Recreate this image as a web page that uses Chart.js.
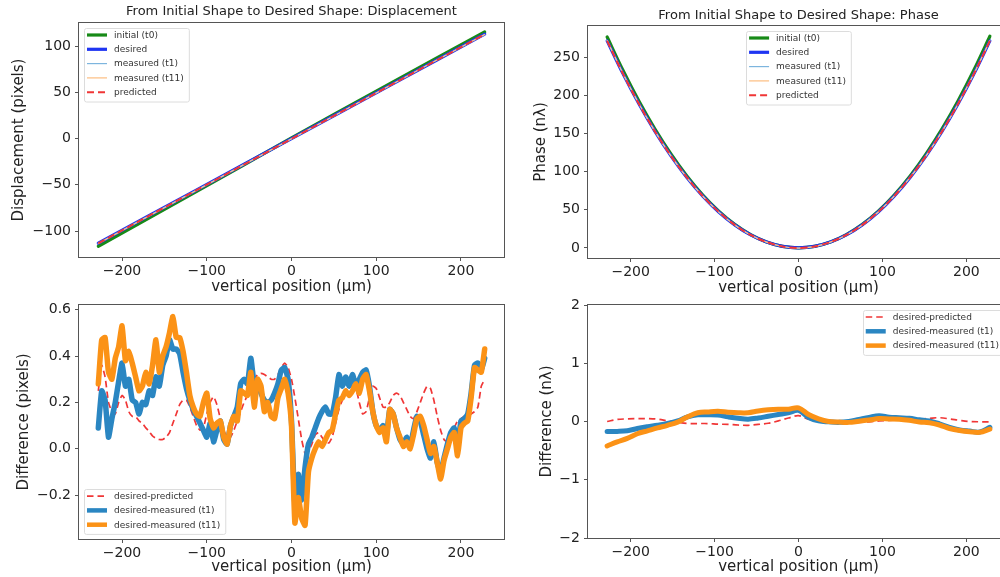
<!DOCTYPE html>
<html>
<head>
<meta charset="utf-8">
<script src="https://cdn.jsdelivr.net/npm/chart.js@4.4.1/dist/chart.umd.min.js"></script>
<style>
	html, body { margin: 0; padding: 0; background: #fff; overflow: hidden; width: 1000px; height: 577px; }
	canvas { position: absolute; }
</style>
</head>
<body>
<canvas id="canvasDisp" width="520" height="300" style="left:0;top:0"></canvas>
<canvas id="canvasPhase" width="490" height="300" style="left:520px;top:0"></canvas>
<canvas id="canvasDiffPix" width="520" height="287" style="left:0;top:290px"></canvas>
<canvas id="canvasDiffPhase" width="490" height="287" style="left:520px;top:290px"></canvas>
<script>
"use strict"

// top left: displacement (pixels)
const dispX = [-228, -171, -114, -57, 0, 57, 114, 171, 228]
const dispInitial = [-116.4, -87.2, -58.0, -28.8, 0.8, 29.6, 58.3, 86.9, 115.3]
const dispDesired = [-113.0, -84.7, -56.5, -28.2, 0.0, 28.2, 56.5, 84.7, 113.0]
const dispMeasuredT1 = [-113.1, -84.9, -56.8, -28.4, -0.1, 27.9, 56.4, 84.7, 112.6]
const dispMeasuredT11 = [-113.3, -85.1, -57.0, -28.5, -0.1, 27.9, 56.4, 84.7, 112.6]
const dispPredicted = [-113.2, -84.8, -56.7, -28.5, -0.3, 28.0, 56.3, 84.6, 112.7]

// top right: phase (n lambda)
const phaseX = [-228, -209, -190, -171, -152, -133, -114, -95, -76, -57, -38, -19, 0,
	19, 38, 57, 76, 95, 114, 133, 152, 171, 190, 209, 228]
const phaseInitial = [277, 233.0, 192.6, 156.1, 123.4, 94.5, 69.4, 48.2, 30.9, 17.4, 7.7, 1.9, 0,
	1.9, 7.7, 17.4, 30.9, 48.3, 69.5, 94.6, 123.6, 156.4, 193.0, 233.6, 278]
const phaseDesired = [272, 228.6, 188.9, 153.0, 120.9, 92.6, 68.0, 47.2, 30.2, 17.0, 7.6, 1.9, 0,
	1.9, 7.6, 17.0, 30.2, 47.2, 68.0, 92.6, 120.9, 153.0, 188.9, 228.6, 272]
const phaseMeasuredT1 = [272.2, 228.7, 189.0, 153.1, 120.9, 92.5, 67.9, 47.1, 30.1, 16.9, 7.5, 1.8, -0.2,
	1.7, 7.6, 17.0, 30.2, 47.2, 67.9, 92.5, 120.9, 153.0, 189.0, 228.8, 272.1]
const phaseMeasuredT11 = [272.4, 228.9, 189.1, 153.1, 120.8, 92.4, 67.8, 47.0, 30.0, 16.9, 7.5, 1.8, -0.2,
	1.7, 7.6, 17.0, 30.2, 47.2, 67.9, 92.5, 120.9, 153.1, 189.1, 228.8, 272.1]
const phasePredicted = [272.0, 228.6, 188.9, 153.0, 120.9, 92.6, 68.0, 47.2, 30.2, 17.0, 7.6, 1.9, -0.1,
	1.9, 7.6, 17.0, 30.2, 47.2, 68.0, 92.6, 120.9, 153.0, 188.9, 228.6, 272.0]

// bottom left: difference (pixels)
const diffPixX = [-228, -224, -220, -216, -212, -208, -204, -200, -196, -192, -188, -184, -180, -176, -172, -168, -164, -160, -156,
	-152, -148, -144, -140, -136, -132, -128, -124, -120, -116, -112, -108, -104, -100, -96, -92, -88, -84, -80,
	-76, -72, -68, -64, -60, -56, -52, -48, -44, -40, -36, -32, -28, -24, -20, -16, -12, -8, -4,
	0, 4, 8, 12, 16, 20, 24, 28, 32, 36, 40, 44, 48, 52, 56, 60, 64, 68, 72,
	76, 80, 84, 88, 92, 96, 100, 104, 108, 112, 116, 120, 124, 128, 132, 136, 140, 144, 148,
	152, 156, 160, 164, 168, 172, 176, 180, 184, 188, 192, 196, 200, 204, 208, 212, 216, 220, 224, 228]
const diffPixPredicted = [0.25, 0.36, 0.31, 0.20, 0.16, 0.15, 0.20, 0.23, 0.21, 0.16, 0.14, 0.14, 0.12, 0.11, 0.09, 0.075, 0.055, 0.045, 0.04,
	0.04, 0.05, 0.07, 0.11, 0.15, 0.19, 0.21, 0.21, 0.18, 0.14, 0.10, 0.08, 0.09, 0.15, 0.20, 0.225, 0.19, 0.13, 0.08,
	0.05, 0.05, 0.08, 0.12, 0.16, 0.20, 0.23, 0.27, 0.30, 0.32, 0.325, 0.32, 0.31, 0.30, 0.30, 0.32, 0.35, 0.37, 0.35,
	0.30, 0.22, 0.13, 0.04, -0.02, -0.01, 0.02, 0.06, 0.07, 0.05, 0.03, 0.025, 0.05, 0.11, 0.17, 0.21, 0.25, 0.27, 0.27,
	0.26, 0.20, 0.15, 0.16, 0.22, 0.27, 0.26, 0.22, 0.18, 0.18, 0.20, 0.23, 0.24, 0.23, 0.20, 0.17, 0.14, 0.13, 0.16,
	0.20, 0.24, 0.27, 0.26, 0.21, 0.14, 0.08, 0.04, 0.03, 0.06, 0.09, 0.12, 0.13, 0.14, 0.14, 0.15, 0.16, 0.18, 0.27, 0.30]
const diffPixT1 = [0.09, 0.25, 0.21, 0.05, 0.13, 0.20, 0.29, 0.37, 0.27, 0.30, 0.21, 0.20, 0.15, 0.20, 0.19, 0.25, 0.23, 0.31, 0.27,
	0.36, 0.40, 0.47, 0.43, 0.43, 0.41, 0.33, 0.26, 0.21, 0.17, 0.14, 0.11, 0.08, 0.05, 0.11, 0.03, 0.08, 0.12, 0.04,
	0.02, 0.10, 0.14, 0.18, 0.28, 0.30, 0.28, 0.39, 0.28, 0.28, 0.24, 0.21, 0.20, 0.21, 0.24, 0.28, 0.34, 0.35, 0.30,
	0.12, -0.24, -0.11, -0.22, -0.08, 0.02, 0.05, 0.09, 0.13, 0.16, 0.18, 0.15, 0.15, 0.22, 0.32, 0.27, 0.31, 0.27, 0.32,
	0.27, 0.30, 0.33, 0.34, 0.27, 0.16, 0.10, 0.08, 0.10, 0.06, 0.17, 0.15, 0.09, 0.04, 0.02, 0.05, 0.01, 0.08, 0.14,
	0.12, 0.06, 0.00, -0.04, 0.03, -0.06, -0.10, -0.04, 0.02, 0.07, 0.09, 0.01, 0.12, 0.13, 0.15, 0.24, 0.36, 0.37, 0.34, 0.39]
const diffPixT11 = [0.28, 0.47, 0.48, 0.33, 0.30, 0.39, 0.44, 0.53, 0.38, 0.42, 0.37, 0.31, 0.25, 0.27, 0.33, 0.28, 0.36, 0.47, 0.33,
	0.40, 0.44, 0.50, 0.57, 0.48, 0.48, 0.42, 0.33, 0.23, 0.18, 0.15, 0.14, 0.20, 0.24, 0.13, 0.09, 0.11, 0.12, 0.05,
	0.02, 0.10, 0.14, 0.12, 0.25, 0.24, 0.23, 0.33, 0.18, 0.30, 0.27, 0.16, 0.20, 0.14, 0.13, 0.22, 0.26, 0.30, 0.24,
	0.10, -0.32, -0.21, -0.30, -0.33, -0.10, -0.04, 0.00, 0.03, 0.01, 0.04, 0.07, 0.08, 0.15, 0.21, 0.22, 0.25, 0.23, 0.25,
	0.28, 0.24, 0.30, 0.32, 0.25, 0.16, 0.10, 0.07, 0.09, 0.03, 0.17, 0.15, 0.09, 0.05, 0.01, 0.03, 0.00, 0.06, 0.13,
	0.14, 0.10, 0.04, -0.02, 0.01, -0.06, -0.13, -0.05, 0.00, 0.05, 0.07, -0.03, 0.09, 0.11, 0.12, 0.22, 0.35, 0.34, 0.33, 0.43]

// bottom right: difference (n lambda)
const diffPhaseX = [-228, -216, -204, -192, -180, -168, -156, -144, -132, -120, -108, -96, -84, -72, -60, -48, -36, -24, -12,
	0, 12, 24, 36, 48, 60, 72, 84, 96, 108, 120, 132, 144, 156, 168, 180, 192, 204, 216, 228]
const diffPhasePredicted = [0.0, 0.035, 0.045, 0.05, 0.05, 0.04, 0.01, -0.015, -0.035, -0.035, -0.035, -0.045, -0.05, -0.06, -0.065, -0.05, -0.03, 0.01, 0.06,
	0.10, 0.04, 0.0, -0.015, -0.02, -0.02, -0.015, -0.005, 0.01, 0.02, 0.025, 0.03, 0.04, 0.055, 0.065, 0.045, 0.02, 0.0, -0.005, -0.005]
const diffPhaseT1 = [-0.17, -0.17, -0.16, -0.12, -0.09, -0.065, -0.035, 0.01, 0.08, 0.115, 0.115, 0.11, 0.08, 0.055, 0.04, 0.06, 0.09, 0.12, 0.15,
	0.19, 0.07, 0.01, -0.005, -0.015, 0.0, 0.035, 0.07, 0.10, 0.075, 0.065, 0.055, 0.03, 0.01, -0.04, -0.10, -0.145, -0.165, -0.18, -0.10]
const diffPhaseT11 = [-0.42, -0.35, -0.29, -0.21, -0.16, -0.11, -0.065, -0.01, 0.08, 0.15, 0.165, 0.175, 0.16, 0.15, 0.15, 0.18, 0.20, 0.21, 0.21,
	0.235, 0.12, 0.045, 0.0, -0.01, -0.015, 0.005, 0.025, 0.05, 0.045, 0.04, 0.02, -0.01, -0.02, -0.06, -0.12, -0.155, -0.175, -0.185, -0.13]

// ticks
const xTicks = [-200, -100, 0, 100, 200]
const dispTicks = [-100, -50, 0, 50, 100]
const phaseTicks = [0, 50, 100, 150, 200, 250]
const diffPixTicks = [-0.2, 0.0, 0.2, 0.4, 0.6]
const diffPhaseTicks = [-2, -1, 0, 1, 2]

Chart.defaults.font.family = '"DejaVu Sans", sans-serif'

function Minus(text) {
	return String(text).replace('-', '\u2212')
}

// matplotlib style box round the plot
const framePlugin = {
	id: 'frame',
	afterDatasetsDraw(chart) {
		const a = chart.chartArea
		const ctx = chart.ctx
		ctx.save()
		ctx.strokeStyle = '#555'
		ctx.lineWidth = 1
		ctx.strokeRect(Math.round(a.left) - 0.5, Math.round(a.top) - 0.5, Math.round(a.right - a.left) + 1, Math.round(a.bottom - a.top) + 1)
		ctx.restore()
	}
}

// title centered on the axes, not on the canvas
const titlePlugin = {
	id: 'axTitle',
	afterDraw(chart, args, opts) {
		if (!opts.text) return
		const a = chart.chartArea
		const ctx = chart.ctx
		ctx.save()
		ctx.font = '13px "DejaVu Sans"'
		ctx.fillStyle = '#222'
		ctx.textAlign = 'center'
		ctx.textBaseline = 'middle'
		ctx.fillText(opts.text, (a.left + a.right) / 2, a.top - opts.offset)
		ctx.restore()
	}
}

// legend drawn inside the axes with a frame
const legendPlugin = {
	id: 'mplLegend',
	afterDatasetsDraw(chart, args, opts) {
		const a = chart.chartArea
		const ctx = chart.ctx
		const sets = chart.data.datasets
		const row = 14.3, pad = 5, handle = 20
		ctx.save()
		ctx.font = '9px "DejaVu Sans"'
		let textW = 0
		sets.forEach(function (ds) {
			textW = Math.max(textW, ctx.measureText(ds.label).width)
		})
		const w = 3 + handle + 7 + textW + 5
		const h = sets.length * row + 2
		let x = a.left + pad
		let y = a.top + pad
		if (opts.loc === 'upper center') x = (a.left + a.right) / 2 - w / 2
		if (opts.loc === 'upper right') x = a.right - pad - w
		if (opts.loc === 'lower left') y = a.bottom - pad - h

		ctx.fillStyle = 'rgba(255,255,255,0.8)'
		ctx.strokeStyle = '#dcdcdc'
		ctx.lineWidth = 1
		ctx.beginPath()
		ctx.roundRect(Math.round(x) + 0.5, Math.round(y) + 0.5, w, h, 2)
		ctx.fill()
		ctx.stroke()

		sets.forEach(function (ds, i) {
			const cy = y + 7 + i * row
			ctx.strokeStyle = ds.borderColor
			ctx.lineWidth = Math.min(ds.borderWidth, 4.5)
			ctx.lineCap = 'butt'
			ctx.setLineDash(ds.borderDash || [])
			ctx.beginPath()
			ctx.moveTo(x + 3, cy)
			ctx.lineTo(x + 3 + handle, cy)
			ctx.stroke()
			ctx.setLineDash([])
			ctx.fillStyle = '#333'
			ctx.textAlign = 'left'
			ctx.textBaseline = 'middle'
			ctx.fillText(ds.label, x + 3 + handle + 7, cy + 0.5)
		})
		ctx.restore()
	}
}

function MakeChart(canvasId, cfg) {
	const datasets = cfg.series.map(function (s, i) {
		return {
			label: s.label,
			data: cfg.x.map(function (x, j) { return { x: x, y: s.values[j] } }),
			borderColor: s.color,
			borderWidth: s.width,
			borderDash: s.dash || [],
			borderCapStyle: s.dash ? 'butt' : 'round',
			borderJoinStyle: 'round',
			pointRadius: 0,
			tension: cfg.tension,
			fill: false,
			order: cfg.series.length - i
		}
	})

	const context = document.getElementById(canvasId).getContext('2d')
	return new Chart(context, {
		type: 'line',
		data: { datasets: datasets },
		plugins: [framePlugin, legendPlugin, titlePlugin],
		options: {
			responsive: false,
			animation: false,
			devicePixelRatio: 1,
			layout: { padding: { left: 0, right: cfg.padRight, top: cfg.padTop, bottom: 0 } },
			plugins: {
				legend: { display: false },
				tooltip: { enabled: false },
				axTitle: { text: cfg.title, offset: cfg.titleOffset },
				mplLegend: { loc: cfg.legendLoc }
			},
			scales: {
				x: {
					type: 'linear',
					min: -250.8,
					max: 250.8,
					afterBuildTicks: function (scale) { scale.ticks = xTicks.map(function (v) { return { value: v } }) },
					afterFit: function (scale) { scale.height = cfg.xHeight },
					grid: { drawOnChartArea: false, tickLength: 4, color: '#555' },
					border: { display: false },
					ticks: { color: '#222', font: { size: 14 }, padding: 2, maxRotation: 0, callback: function (v) { return Minus(v) } },
					title: { display: true, text: 'vertical position (µm)', color: '#222', font: { size: 15 }, padding: { top: 0, bottom: cfg.xTitlePad } }
				},
				y: {
					type: 'linear',
					min: cfg.yMin,
					max: cfg.yMax,
					afterBuildTicks: function (scale) { scale.ticks = cfg.yTicks.map(function (v) { return { value: v } }) },
					afterFit: function (scale) { scale.width = cfg.yWidth },
					grid: { drawOnChartArea: false, tickLength: 4, color: '#555' },
					border: { display: false },
					ticks: { color: '#222', font: { size: 14 }, padding: 4, callback: cfg.yFormat },
					title: { display: true, text: cfg.yTitle, color: '#222', font: { size: 15 }, padding: { top: cfg.yTitlePad, bottom: 0 } }
				}
			}
		}
	})
}

MakeChart('canvasDisp', {
	title: 'From Initial Shape to Desired Shape: Displacement', titleOffset: 11,
	x: dispX, tension: 0,
	series: [
		{ label: 'initial (t0)', values: dispInitial, color: '#178a17', width: 3.2 },
		{ label: 'desired', values: dispDesired, color: '#1f35f2', width: 3.2 },
		{ label: 'measured (t1)', values: dispMeasuredT1, color: '#7db5de', width: 1.2 },
		{ label: 'measured (t11)', values: dispMeasuredT11, color: '#fdbd80', width: 1.2 },
		{ label: 'predicted', values: dispPredicted, color: '#f03636', width: 2, dash: [7, 4] }
	],
	legendLoc: 'upper left',
	yTitle: 'Displacement (pixels)', yTicks: dispTicks, yMin: -128, yMax: 125,
	yFormat: function (v) { return Minus(v) },
	yWidth: 79, yTitlePad: 10, padRight: 16, padTop: 23, xHeight: 43, xTitlePad: 4
})

MakeChart('canvasPhase', {
	title: 'From Initial Shape to Desired Shape: Phase', titleOffset: 10.5,
	x: phaseX, tension: 0.3,
	series: [
		{ label: 'initial (t0)', values: phaseInitial, color: '#178a17', width: 3.2 },
		{ label: 'desired', values: phaseDesired, color: '#1f35f2', width: 3.2 },
		{ label: 'measured (t1)', values: phaseMeasuredT1, color: '#7db5de', width: 1.2 },
		{ label: 'measured (t11)', values: phaseMeasuredT11, color: '#fdbd80', width: 1.2 },
		{ label: 'predicted', values: phasePredicted, color: '#f03636', width: 2, dash: [7, 4] }
	],
	legendLoc: 'upper center',
	yTitle: 'Phase (nλ)', yTicks: phaseTicks, yMin: -13.3, yMax: 291.5,
	yFormat: function (v) { return Minus(v) },
	yWidth: 68, yTitlePad: 12, padRight: 1, padTop: 26, xHeight: 42, xTitlePad: 3
})

MakeChart('canvasDiffPix', {
	title: '', titleOffset: 0,
	x: diffPixX, tension: 0.15,
	series: [
		{ label: 'desired-predicted', values: diffPixPredicted, color: '#f03636', width: 1.7, dash: [6.5, 4] },
		{ label: 'desired-measured (t1)', values: diffPixT1, color: '#2a86c2', width: 5.5 },
		{ label: 'desired-measured (t11)', values: diffPixT11, color: '#fb9216', width: 5.5 }
	],
	legendLoc: 'lower left',
	yTitle: 'Difference (pixels)', yTicks: diffPixTicks, yMin: -0.389, yMax: 0.62,
	yFormat: function (v) { return Minus(v.toFixed(1)) },
	yWidth: 79, yTitlePad: 15, padRight: 16, padTop: 15, xHeight: 38, xTitlePad: 0.5
})

MakeChart('canvasDiffPhase', {
	title: '', titleOffset: 0,
	x: diffPhaseX, tension: 0.35,
	series: [
		{ label: 'desired-predicted', values: diffPhasePredicted, color: '#f03636', width: 1.7, dash: [6.5, 4] },
		{ label: 'desired-measured (t1)', values: diffPhaseT1, color: '#2a86c2', width: 5 },
		{ label: 'desired-measured (t11)', values: diffPhaseT11, color: '#fb9216', width: 5 }
	],
	legendLoc: 'upper right',
	yTitle: 'Difference (nλ)', yTicks: diffPhaseTicks, yMin: -2, yMax: 2,
	yFormat: function (v) { return Minus(v) },
	yWidth: 68, yTitlePad: 18, padRight: 1, padTop: 15, xHeight: 39, xTitlePad: 1.3
})
</script>
</body>
</html>
